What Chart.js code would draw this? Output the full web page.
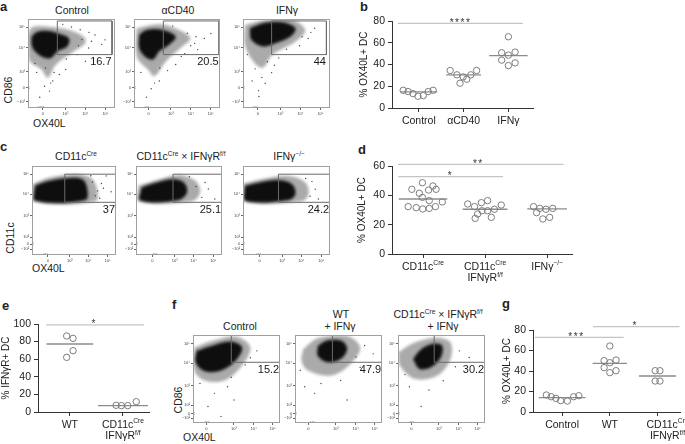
<!DOCTYPE html>
<html><head><meta charset="utf-8">
<script src="https://cdn.jsdelivr.net/npm/chart.js@4.4.1/dist/chart.umd.min.js"></script>
<style>
body{margin:0;background:#fff;width:685px;height:444px;overflow:hidden;position:relative;font-family:"Liberation Sans",Arial,Helvetica,sans-serif;color:#222}
canvas{position:absolute}
.t{position:absolute;white-space:nowrap;font-size:10.5px;line-height:1;transform:translateX(-50%)}
.t sup,.x sup{font-size:0.62em;vertical-align:baseline;position:relative;top:-0.55em}
.x{position:absolute;white-space:nowrap;font-size:10.5px;line-height:1}
.L{position:absolute;font-weight:bold;font-size:13px;line-height:1}
.rot{position:absolute;font-size:10.5px;line-height:1;white-space:nowrap;transform:translate(-50%,-50%) rotate(-90deg)}
</style></head><body>
<div class="L" style="left:0;top:0">a</div>
<div class="L" style="left:360px;top:0">b</div>
<div class="L" style="left:0;top:140px">c</div>
<div class="L" style="left:358px;top:143px">d</div>
<div class="L" style="left:2px;top:299px">e</div>
<div class="L" style="left:172px;top:298px">f</div>
<div class="L" style="left:502px;top:297px">g</div>

<div class="t" style="left:72px;top:5px">Control</div>
<div class="t" style="left:178px;top:5px">αCD40</div>
<div class="t" style="left:287px;top:5px">IFNγ</div>
<div class="t" style="left:76px;top:151px">CD11c<sup>Cre</sup></div>
<div class="t" style="left:181px;top:151px">CD11c<sup>Cre</sup> × IFNγR<sup>f/f</sup></div>
<div class="t" style="left:289px;top:151px">IFNγ<sup>−/−</sup></div>
<div class="t" style="left:240px;top:321px">Control</div>
<div class="t" style="left:341px;top:309px">WT</div>
<div class="t" style="left:340px;top:321px">+ IFNγ</div>
<div class="t" style="left:438px;top:309px">CD11c<sup>Cre</sup> × IFNγR<sup>f/f</sup></div>
<div class="t" style="left:443px;top:321px">+ IFNγ</div>

<div class="rot" style="left:8px;top:90px">CD86</div>
<div class="x" style="left:33px;top:118px">OX40L</div>
<div class="rot" style="left:10px;top:238px">CD11c</div>
<div class="x" style="left:32px;top:263px">OX40L</div>
<div class="rot" style="left:178px;top:400px">CD86</div>
<div class="x" style="left:183px;top:432px">OX40L</div>

<script>
// ================= DATA =================
// ---- flow plots: axis ticks (positions on a 0-100 display scale) ----
const aXTicks = [17, 43, 66, 89];
const aXTickLabels = ['0', '10³', '10⁴', '10⁵'];
const aYTicks = [7, 23, 41, 68, 91];
const aYTickLabels = ['−10³', '0', '10³', '10⁴', '10⁵'];
const cXTicks = [19, 45, 67, 90];
const cYTicks = [6.7, 12.2, 20, 44.4, 68.5, 90.7];
const fXTicks = [15.4, 47, 69.7, 91.4];
const fYTicks = [5.3, 10.9, 20.2, 42.7, 67.8, 90.2];
const cfYTickLabels = ['−10²', '0', '10²', '10³', '10⁴', '10⁵'];

// gates [xLeft, xRight, yTop, yBottom] and gate percentages
const aGates = [[33.7, 96.6, 97.8, 60], [34.1, 98.9, 97.8, 60], [32.9, 95.9, 97.8, 60]];
const aGateLabels = ['16.7', '20.5', '44'];
const cGates = [[39, 99.5, 90.8, 59.2], [43, 99.5, 90.8, 59.2], [40.8, 99.5, 90.8, 59.2]];
const cGateLabels = ['37', '25.1', '24.2'];
const fGates = [[44, 99.7, 99.7, 69], [43, 99.7, 99.7, 69], [41.6, 99.7, 99.7, 69]];
const fGateLabels = ['15.2', '47.9', '30.2'];

// event clouds: dense core outline, sparse halo outline, scattered events
const a1Core = [[4.1,80.3],[9.7,85.2],[21,86.7],[34,84],[47,78.5],[45,69],[34,63.7],[26.6,56.3],[17.2,57],[7.9,63.7],[4.1,71]];
const a1Halo = [[0.4,85],[5.6,91.4],[24.7,91.4],[47,87.7],[64,80],[65.9,73],[52.8,63.7],[32.2,48.9],[22.8,34],[15.4,43.3],[2.2,52.6],[0.4,67.4]];
const a1Dots = [[77,82],[84.8,71.5],[56.6,60],[13.5,12],[28.5,30.3],[36,37.7],[24.7,19],[65.9,52.6],[88.5,76.6],[69.7,67.4],[43.4,43.3],[19,24.4],[70,85],[60,88],[50,91],[40,94],[73,75],[10,40],[20,45],[58,70],[62,77],[44,55],[30,40],[26,28],[8,50],[0.8,22],[0.8,24],[12,0.8],[14,0.8],[16,0.8],[18,0.8]];
const a2Core = [[6,82.2],[14.4,87.7],[33.3,87.7],[48.5,80.3],[40.9,71],[29.5,63.7],[22,54.4],[12.5,58],[6,67.4]];
const a2Halo = [[3,89.6],[29.5,94],[52.3,87.7],[65.5,78.5],[56,69],[37.1,52.5],[23.9,35.9],[16.3,43.3],[3.8,56.3],[2.3,74.7]];
const a2Dots = [[70.5,72.6],[81.8,78.2],[59,61],[29.5,30.4],[20,21.6],[48.5,48.9],[74,65.6],[14.4,12.2],[39,42],[89.4,83.7],[62,84],[45,92],[8,40],[66,70],[55,58],[30,45],[24,28],[72,80],[0.8,22],[0.8,24],[13,0.8],[15,0.8],[17,0.8]];
const a3Core = [[7.9,89.6],[22.8,95.2],[45.3,96.3],[60.3,89.6],[54.7,80.3],[37.8,73],[22.8,69.2],[9.7,76.6]];
const a3Halo = [[2.2,93.3],[26.6,98.8],[56.5,98.8],[71.5,87.7],[60.3,74.7],[34,60],[22.8,45.2],[11.6,52.6],[2.2,71]];
const a3Dots = [[21.7,34.2],[17.9,19.5],[32.9,39.7],[74.9,78.2],[41.1,56.3],[10.5,30.4],[82.4,89.6],[25.5,27.8],[18.3,13],[65,70],[50,66],[5,60],[28,52],[78,85],[68,80],[14,44],[36,48],[0.8,22],[0.8,24],[12,0.8],[14,0.8],[16,0.8]];

const c1Core = [[3.5,77.8],[17,82.6],[40.3,86.3],[59.7,85.2],[65.5,75.9],[63.7,61.9],[3.5,61.1]];
const c1Halo = [[0.8,79.6],[20.9,87],[52,90.7],[69.4,87],[77,75.9],[75.4,60.4],[0.8,60.4]];
const c1Dots = [[82.6,80.3],[94.2,71],[80.6,63.7],[88.4,88.9],[75.3,66.5],[70,89],[85,75],[78,72],[72,82],[0.8,12],[0.8,14],[14,0.8],[16,0.8],[18,0.8]];
const c2Core = [[6.4,75.9],[19.7,80.3],[42.4,85.2],[55.7,81.5],[59.4,70.4],[50,61.9],[5.3,61.1]];
const c2Halo = [[2.7,77.8],[27.3,85.2],[50,90],[69,83.3],[74.6,70.4],[65.1,60.4],[2.7,60.4]];
const c2Dots = [[84.1,74.1],[91.6,63],[80.3,81.5],[76.5,64.8],[70,77],[62,88],[0.8,12],[0.8,14],[20,0.8],[22,0.8],[24,0.8]];
const c3Core = [[2.2,77.8],[19.1,81.5],[41.6,84.1],[56.5,79.6],[60.3,68.5],[53,61.9],[2.2,61.1]];
const c3Halo = [[0.4,80.3],[26.6,86.3],[52.8,88.9],[71.6,81.5],[75.3,68.5],[67.8,60.4],[0.4,60.4]];
const c3Dots = [[83,74],[86.7,63],[79.3,82.5],[72,86],[77,66],[0.8,12],[0.8,14],[16,0.8],[18,0.8],[20,0.8]];

const f1Core = [[4.1,82],[21,87.6],[43.4,92.5],[56.5,85.7],[49,70.8],[32.2,59.6],[13.5,58.8],[3,68.9]];
const f1Halo = [[1.5,85.7],[24.7,94],[50.9,97.8],[65.9,85.7],[54.7,63.3],[36,48.3],[13.5,48.3],[1.5,59.6]];
const f1Dots = [[65.9,74.2],[24.7,33.7],[39.7,41.2],[17.2,18.7],[73.4,82],[47.2,26.2],[32.2,7.5],[60,66],[44,52],[8,45],[0.8,10],[0.8,12],[14,0.8],[16,0.8],[18,0.8]];
const f2Core = [[26.2,87.6],[37.5,94],[54.3,92.9],[59.9,83.9],[52.4,72.7],[37.5,68.9],[26.2,76.4]];
const f2Halo = [[9.4,83.9],[26.2,96.3],[59.9,98.9],[74.9,85.7],[63.7,67.1],[41.2,53.9],[15,59.6],[7.5,70.8]];
const f2Dots = [[29.9,44.9],[74.9,63.3],[22.5,33.7],[52.4,48.3],[89.9,78.6],[11.2,41.2],[59.9,26.2],[70,75],[80,88],[6,60],[0.8,10],[0.8,12],[18,0.8],[20,0.8],[22,0.8]];
const f3Core = [[17.2,72.7],[26.6,83.9],[41.6,90.2],[50.9,87.6],[49.1,74.5],[37.8,63.3],[24.7,61.4]];
const f3Halo = [[0.4,80.1],[19.1,91.4],[45.3,97],[60.3,91.4],[60.3,72.7],[45.3,53.9],[19.1,50.2],[2.2,65.2]];
const f3Dots = [[70.5,82],[13.1,41.2],[35.6,37.5],[81.8,74.5],[26.6,18.7],[66,64],[52,48],[8,55],[0.8,10],[0.8,12],[14,0.8],[16,0.8],[18,0.8]];

// ---- panel b ----
const bCats = ['Control', 'αCD40', 'IFNγ'];
const bJitter = [[-0.35,-0.24,-0.13,-0.02,0.10,0.21,0.32],[-0.30,-0.15,-0.08,-0.01,0.07,0.16,0.29],[0.0,-0.15,0.0,0.15,-0.15,0.0,0.15]];
const bValues = [[16.3,15.1,13.2,10.8,11.4,15.1,16.3],[34.5,30.5,22.8,28.6,26.5,30.5,34.5],[65.5,50.8,48.6,51.4,44,39,41.5]];
const bMedians = [14.8, 30.5, 48.2];
const bSigY = [77.9], bSigFrom = [-0.47], bSigTo = [2.32], bSigText = ['****'], bSigAt = [0.93];

// ---- panel d ----
const dCats = ['CD11c{Cre}', 'CD11c{Cre}\nIFNγR{f/f}', 'IFNγ{−/−}'];
const dJitter = [[-0.18,-0.06,-0.01,-0.01,0.09,0.10,0.16,0.21,-0.24,-0.11,-0.005,0.10,0.20,0.31],[-0.28,-0.17,-0.06,0.04,0.26,-0.12,-0.05,0.04,0.15,-0.16,0.10],[-0.22,-0.12,-0.02,0.09,-0.17,-0.07,0.04]];
const dValues = [[44.1,41.4,48.6,38.6,43.6,36.4,46.4,44.1,32.3,31.6,30.7,31.1,32.3,35.5],[34.1,32.3,35,36.4,33.4,27.3,29.5,29.5,30.5,24.3,25],[32.3,31.1,30.5,31.1,28.2,23.9,25]];
const dMedians = [37.5, 30.5, 30.7];
const dSigY = [61.1, 52.7], dSigFrom = [-0.4, -0.4], dSigTo = [2.26, 1.29], dSigText = ['**', '*'], dSigAt = [0.89, 0.44];

// ---- panel e ----
const eCats = ['WT', 'CD11c{Cre}\nIFNγR{f/f}'];
const eJitter = [[-0.06,0.06,0.06,-0.06],[-0.13,-0.03,0.09,0.25]];
const eValues = [[86.4,83.7,69.7,62.1],[7.6,7.2,7.2,11.7]];
const eMedians = [77.3, 7.2];
const eSigY = [98.9], eSigFrom = [-0.45], eSigTo = [1.4], eSigText = ['*'], eSigAt = [0.46];

// ---- panel g ----
const gCats = ['Control', 'WT', 'CD11c{Cre}\nIFNγR{f/f}'];
const gJitter = [[-0.33,-0.23,-0.13,-0.03,0.11,0.24,0.35],[0.0,-0.12,0.0,0.13,-0.12,0.0,0.13],[-0.05,0.05,-0.05,0.05]];
const gValues = [[16.6,14.9,13.3,11.1,10.7,14.9,15.9],[64.4,50.1,48.1,50.7,43.3,38.4,40.3],[40.3,40.3,30.2,30.2]];
const gMedians = [14, 47.5, 35.1];
const gSigY = [72.9, 83.2], gSigFrom = [-0.57, 0.65], gSigTo = [1.29, 2.46], gSigText = ['***', '*'], gSigAt = [0.3, 1.53];

// ================= RENDERING =================
const FONT = '"Liberation Sans", Arial, Helvetica, sans-serif';
Chart.defaults.font.family = FONT;
Chart.defaults.color = '#222';

function mk(left, top, w, h) {
  const cv = document.createElement('canvas');
  cv.width = w; cv.height = h;
  cv.style.left = left + 'px'; cv.style.top = top + 'px';
  cv.style.width = w + 'px'; cv.style.height = h + 'px';
  document.body.appendChild(cv);
  return cv;
}

function drawRich(ctx, str, cx, baseY, size) {
  const segs = [];
  str.replace(/([^{}]+)|\{([^}]*)\}/g, (m, a, b) => { segs.push(a !== undefined ? {t: a, sup: false} : {t: b, sup: true}); return m; });
  const fN = size + 'px ' + FONT, fS = (size * 0.64) + 'px ' + FONT;
  let w = 0;
  segs.forEach(s => { ctx.font = s.sup ? fS : fN; s.w = ctx.measureText(s.t).width; w += s.w; });
  let x = cx - w / 2;
  ctx.textAlign = 'left'; ctx.textBaseline = 'alphabetic';
  segs.forEach(s => { ctx.font = s.sup ? fS : fN; ctx.fillText(s.t, x, baseY + (s.sup ? -size * 0.42 : 0)); x += s.w; });
}

function pts(arr) { return arr.map(p => ({x: p[0], y: p[1]})); }
function closed(arr) { return pts(arr.concat([arr[0]])); }

function flowChart(frame, core, halo, dots, gate, gateLabel, xT, xL, yT, yL) {
  const [l, r, t, b] = frame;
  const yw = 12, xh = 8, pt = 3, pr = 2;
  const cv = mk(l - yw, t - pt, r - l + yw + pr, b - t + pt + xh);
  const gatePts = [[gate[0], gate[2]], [gate[1], gate[2]], [gate[1], gate[3]], [gate[0], gate[3]], [gate[0], gate[2]]];
  const decor = {
    id: 'decor',
    beforeDatasetsDraw(chart) { chart.ctx.filter = 'blur(1.4px)'; },
    afterDatasetDraw(chart, args) { if (args.index === 2) chart.ctx.filter = 'none'; },
    afterDatasetsDraw(chart) {
      const {ctx, chartArea: a, scales: {x, y}} = chart;
      ctx.filter = 'none';
      ctx.save();
      ctx.strokeStyle = '#a0a0a0'; ctx.lineWidth = 1;
      ctx.strokeRect(a.left + 0.5, a.top + 0.5, a.right - a.left - 1, a.bottom - a.top - 1);
      ctx.fillStyle = '#1a1a1a'; ctx.font = '11px ' + FONT;
      ctx.textAlign = 'right'; ctx.textBaseline = 'alphabetic';
      ctx.fillText(gateLabel, x.getPixelForValue(gate[1]) - 0.5, y.getPixelForValue(gate[3]) + 10.5);
      ctx.restore();
    }
  };
  new Chart(cv, {
    type: 'line',
    data: {datasets: [
      {data: pts(gatePts), borderColor: '#6a6a6a', borderWidth: 1, pointRadius: 0, tension: 0, fill: false, order: 0},
      {data: pts(dots), showLine: false, pointRadius: 0.7, pointBackgroundColor: '#444', pointBorderWidth: 0, order: 1},
      {data: closed(core), borderColor: 'rgba(0,0,0,0)', borderWidth: 1, backgroundColor: '#0e0e0e', fill: 'shape', pointRadius: 0, tension: 0.35, order: 2},
      {data: closed(halo), borderColor: 'rgba(0,0,0,0)', borderWidth: 1, backgroundColor: 'rgba(20,20,20,0.36)', fill: 'shape', pointRadius: 0, tension: 0.35, order: 3}
    ]},
    options: {
      animation: false, responsive: false, events: [],
      layout: {padding: {top: pt, right: pr, left: 0, bottom: 0}},
      plugins: {legend: {display: false}, tooltip: {enabled: false}},
      scales: {
        x: {type: 'linear', min: 0, max: 100,
          afterBuildTicks: s => { s.ticks = xT.map(v => ({value: v})); },
          afterFit: s => { s.height = xh; },
          ticks: {font: {size: 4}, color: '#444', padding: 1, autoSkip: false, maxRotation: 0, callback: (v, i) => xL[i]},
          grid: {drawOnChartArea: false, tickLength: 2, color: '#666'}, border: {display: false}},
        y: {type: 'linear', min: 0, max: 100,
          afterBuildTicks: s => { s.ticks = yT.map(v => ({value: v})); },
          afterFit: s => { s.width = yw; },
          ticks: {font: {size: 4}, color: '#444', padding: 1, autoSkip: false, callback: (v, i) => yL[i]},
          grid: {drawOnChartArea: false, tickLength: 2, color: '#666'}, border: {display: false}}
      }
    },
    plugins: [decor]
  });
}

function dotChart(o) {
  const cv = mk(o.left, o.top, o.width, o.height);
  const ds = [];
  o.values.forEach((vals, g) => {
    ds.push({data: vals.map((v, i) => ({x: g + o.jitter[g][i], y: v})), pointRadius: 3.2, pointBorderColor: '#7d7d7d',
      pointBackgroundColor: 'rgba(255,255,255,0)', pointBorderWidth: 1, order: 0});
    ds.push({showLine: true, data: [{x: g - o.half[g], y: o.medians[g]}, {x: g + o.half[g], y: o.medians[g]}],
      borderColor: '#8c8c8c', borderWidth: 1.3, pointRadius: 0, order: 1});
  });
  o.sigY.forEach((yv, k) => ds.push({showLine: true, clip: false, data: [{x: o.sigFrom[k], y: yv}, {x: o.sigTo[k], y: yv}],
    borderColor: '#c4c4c4', borderWidth: 1.2, pointRadius: 0, order: 2}));
  const labels = {
    id: 'labels',
    afterDraw(chart) {
      const {ctx, chartArea: a, scales: {x, y}} = chart;
      ctx.save(); ctx.fillStyle = '#222';
      o.cats.forEach((c, i) => {
        const px = x.getPixelForValue(i) + (o.shift ? o.shift[i] : 0);
        c.split('\n').forEach((line, j) => drawRich(ctx, line, px, a.bottom + 12 + j * 11.5 + 3.8, 10.5));
      });
      ctx.font = '10px ' + FONT; ctx.fillStyle = '#333'; ctx.textAlign = 'center'; ctx.textBaseline = 'alphabetic';
      if ('letterSpacing' in ctx) ctx.letterSpacing = '1.5px';
      o.sigText.forEach((t, k) => ctx.fillText(t, x.getPixelForValue(o.sigAt[k]), y.getPixelForValue(o.sigY[k]) + 2.5));
      ctx.restore();
    }
  };
  new Chart(cv, {
    type: 'scatter',
    data: {datasets: ds},
    options: {
      animation: false, responsive: false, events: [],
      layout: {padding: {top: o.padTop, right: o.padRight, left: 0, bottom: 0}},
      plugins: {legend: {display: false}, tooltip: {enabled: false}},
      scales: {
        x: {type: 'linear', min: o.xMin, max: o.xMax,
          afterBuildTicks: s => { s.ticks = o.cats.map((c, i) => ({value: i})); },
          afterFit: s => { s.height = o.xh; },
          ticks: {display: false},
          grid: {drawOnChartArea: false, tickLength: 4, color: '#333', lineWidth: 1},
          border: {display: true, color: '#333', width: 1}},
        y: {type: 'linear', min: 0, max: o.yMax,
          afterFit: s => { s.width = o.yw; },
          ticks: {stepSize: 20, font: {size: 10.5}, color: '#222', padding: 3},
          grid: {drawOnChartArea: false, tickLength: 4, color: '#333', lineWidth: 1},
          border: {display: true, color: '#333', width: 1},
          title: {display: true, text: o.yTitle, font: {size: 10}, color: '#222', padding: {top: o.titlePad, bottom: 0}}}
      }
    },
    plugins: [labels]
  });
}

// ---- flow rows ----
const aFrames = [[28, 117, 18, 108], [134, 222, 18, 108], [243, 332, 18, 108]];
const cFrames = [[32, 118, 165, 255], [136, 224, 165, 255], [243, 332, 165, 255]];
const fFrames = [[193, 282, 334, 423], [295, 384, 334, 423], [398, 487, 334, 423]];
const aSets = [[a1Core, a1Halo, a1Dots], [a2Core, a2Halo, a2Dots], [a3Core, a3Halo, a3Dots]];
const cSets = [[c1Core, c1Halo, c1Dots], [c2Core, c2Halo, c2Dots], [c3Core, c3Halo, c3Dots]];
const fSets = [[f1Core, f1Halo, f1Dots], [f2Core, f2Halo, f2Dots], [f3Core, f3Halo, f3Dots]];
for (let i = 0; i < 3; i++) {
  flowChart(aFrames[i], aSets[i][0], aSets[i][1], aSets[i][2], aGates[i], aGateLabels[i], aXTicks, aXTickLabels, aYTicks, aYTickLabels);
  flowChart(cFrames[i], cSets[i][0], cSets[i][1], cSets[i][2], cGates[i], cGateLabels[i], cXTicks, aXTickLabels, cYTicks, cfYTickLabels);
  flowChart(fFrames[i], fSets[i][0], fSets[i][1], fSets[i][2], fGates[i], fGateLabels[i], fXTicks, aXTickLabels, fYTicks, cfYTickLabels);
}

// ---- dot plots ----
dotChart({left: 340, top: 0, width: 203, height: 148, yw: 52, padTop: 21, padRight: 10, xh: 40,
  xMin: -0.6, xMax: 2.55, yMax: 80, yTitle: '% OX40L+ DC', titlePad: 18,
  cats: bCats, jitter: bJitter, values: bValues, medians: bMedians, half: [0.41, 0.39, 0.43],
  sigY: bSigY, sigFrom: bSigFrom, sigTo: bSigTo, sigText: bSigText, sigAt: bSigAt});
dotChart({left: 340, top: 140, width: 242, height: 154, yw: 52, padTop: 26, padRight: 10, xh: 40,
  xMin: -0.5, xMax: 2.4, yMax: 60, yTitle: '% OX40L+ DC', titlePad: 16,
  cats: dCats, jitter: dJitter, values: dValues, medians: dMedians, half: [0.39, 0.36, 0.32],
  sigY: dSigY, sigFrom: dSigFrom, sigTo: dSigTo, sigText: dSigText, sigAt: dSigAt});
dotChart({left: 0, top: 290, width: 157, height: 152, yw: 38, padTop: 34, padRight: 8, xh: 30,
  xMin: -0.6, xMax: 1.49, yMax: 100, yTitle: '% IFNγR+ DC', titlePad: 0,
  cats: eCats, jitter: eJitter, values: eValues, medians: eMedians, half: [0.44, 0.47],
  sigY: eSigY, sigFrom: eSigFrom, sigTo: eSigTo, sigText: eSigText, sigAt: eSigAt});
dotChart({left: 500, top: 290, width: 185, height: 152, yw: 33, padTop: 40, padRight: 1, xh: 30,
  xMin: -0.61, xMax: 2.47, yMax: 80, yTitle: '% OX40L+ DC', titlePad: 1,
  cats: gCats, jitter: gJitter, values: gValues, medians: gMedians, half: [0.49, 0.36, 0.39], shift: [0, 0, 10],
  sigY: gSigY, sigFrom: gSigFrom, sigTo: gSigTo, sigText: gSigText, sigAt: gSigAt});
</script>
</body></html>
